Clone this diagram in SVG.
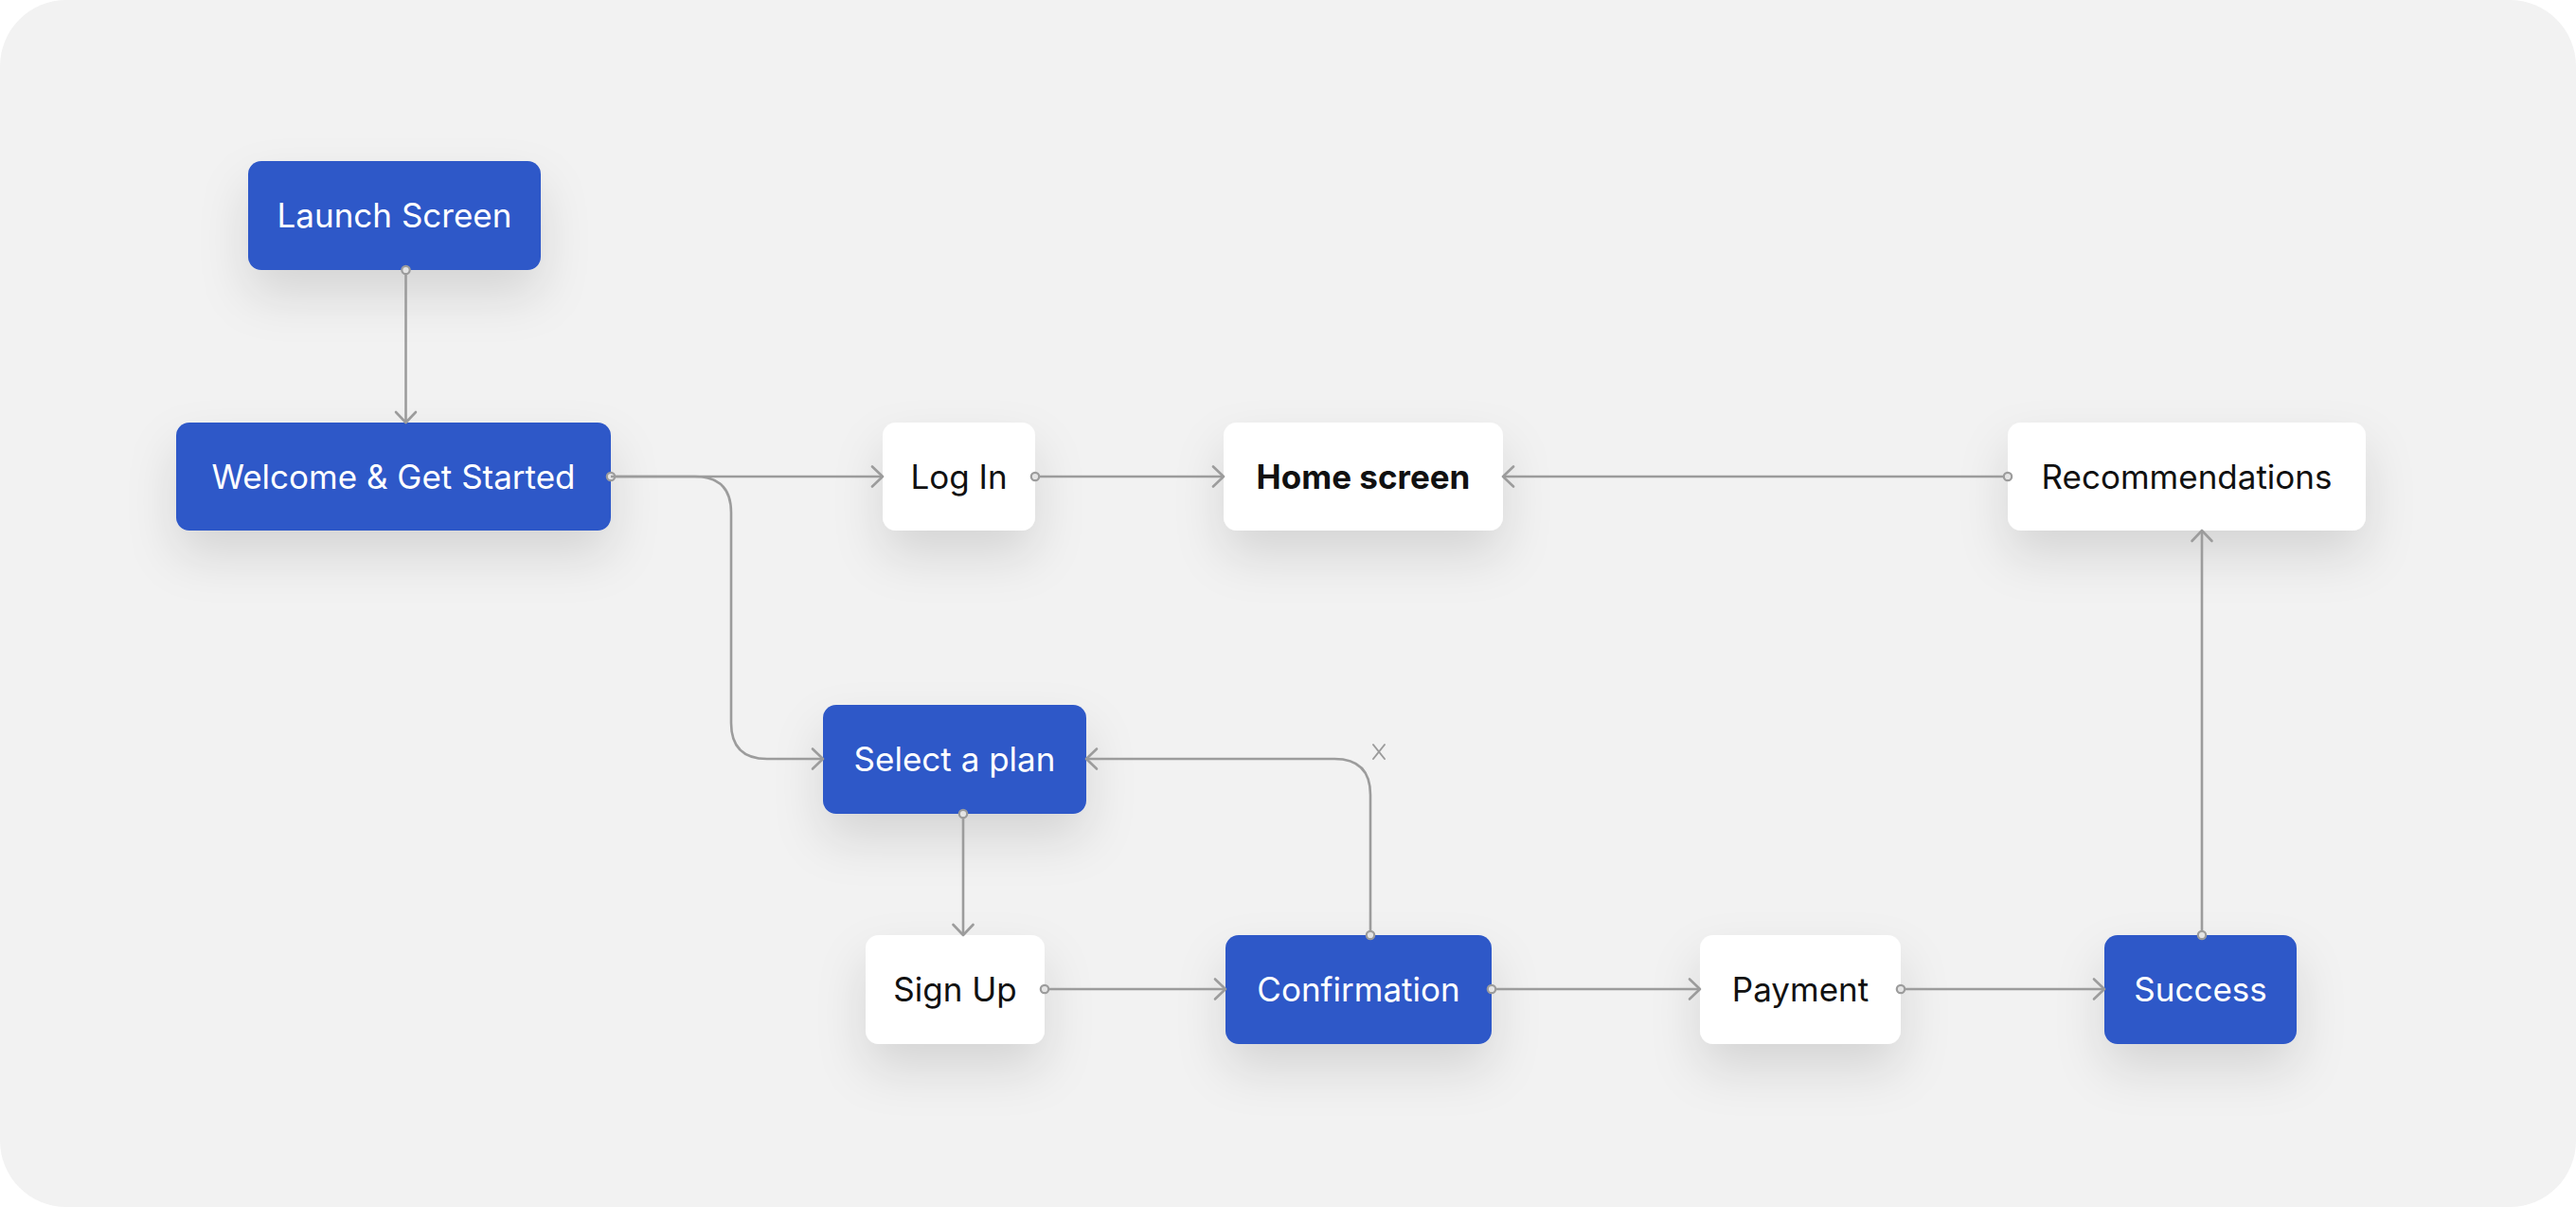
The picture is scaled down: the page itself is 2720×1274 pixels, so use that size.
<svg xmlns="http://www.w3.org/2000/svg" width="2720" height="1274" viewBox="0 0 2720 1274">
  <defs>
    <style>
      .blue { fill: #2d58c8; }
      .white { fill: #ffffff; }
      .lbl { font-family: Inter, "Noto Sans", "Liberation Sans", sans-serif; font-size: 35px; text-anchor: middle; }
      .lw { fill: #ffffff; }
      .lb { fill: #111111; }
      .bold { font-weight: 700; }
      .conn { fill: none; stroke: #9c9c9c; stroke-width: 2.6; }
    </style>
    <filter id="sh" x="-50%" y="-80%" width="200%" height="300%">
      <feDropShadow dx="0" dy="26" stdDeviation="26" flood-color="#000000" flood-opacity="0.12"/>
    </filter>
    <marker id="arr" viewBox="-14 -13 16 26" refX="0" refY="0" markerWidth="16" markerHeight="26" markerUnits="userSpaceOnUse" orient="auto">
      <path d="M-11,-10.5 L0,0 L-11,10.5" fill="none" stroke="#9c9c9c" stroke-width="2.6" stroke-linecap="round" stroke-linejoin="round"/>
    </marker>
    <marker id="dot" viewBox="-7 -7 14 14" refX="0" refY="0" markerWidth="14" markerHeight="14" markerUnits="userSpaceOnUse" orient="auto">
      <circle cx="0" cy="0" r="4.2" fill="#e4e4e4" stroke="#9c9c9c" stroke-width="2.2"/>
    </marker>
  </defs>

  <rect x="0" y="0" width="2720" height="1274" fill="#ffffff"/>
  <rect x="0" y="0" width="2720" height="1274" rx="70" ry="70" fill="#f2f2f2"/>

  <g id="node-launch">
    <rect class="blue" x="262" y="170" width="309" height="115" rx="14" filter="url(#sh)"/>
    <text class="lbl lw" x="416.5" y="240">Launch Screen</text>
  </g>
  <g id="node-welcome">
    <rect class="blue" x="186" y="446" width="459" height="114" rx="14" filter="url(#sh)"/>
    <text class="lbl lw" x="415.5" y="515.5">Welcome &amp; Get Started</text>
  </g>
  <g id="node-login">
    <rect class="white" x="932" y="446" width="161" height="114" rx="14" filter="url(#sh)"/>
    <text class="lbl lb" x="1012.5" y="515.5">Log In</text>
  </g>
  <g id="node-home">
    <rect class="white" x="1292" y="446" width="295" height="114" rx="14" filter="url(#sh)"/>
    <text class="lbl lb bold" x="1439.5" y="515.5">Home screen</text>
  </g>
  <g id="node-recommendations">
    <rect class="white" x="2120" y="446" width="378" height="114" rx="14" filter="url(#sh)"/>
    <text class="lbl lb" x="2309" y="515.5">Recommendations</text>
  </g>
  <g id="node-select-plan">
    <rect class="blue" x="869" y="744" width="278" height="115" rx="14" filter="url(#sh)"/>
    <text class="lbl lw" x="1008" y="814">Select a plan</text>
  </g>
  <g id="node-signup">
    <rect class="white" x="914" y="987" width="189" height="115" rx="14" filter="url(#sh)"/>
    <text class="lbl lb" x="1008.5" y="1057">Sign Up</text>
  </g>
  <g id="node-confirmation">
    <rect class="blue" x="1294" y="987" width="281" height="115" rx="14" filter="url(#sh)"/>
    <text class="lbl lw" x="1434.5" y="1057">Confirmation</text>
  </g>
  <g id="node-payment">
    <rect class="white" x="1795" y="987" width="212" height="115" rx="14" filter="url(#sh)"/>
    <text class="lbl lb" x="1901" y="1057">Payment</text>
  </g>
  <g id="node-success">
    <rect class="blue" x="2222" y="987" width="203" height="115" rx="14" filter="url(#sh)"/>
    <text class="lbl lw" x="2323.5" y="1057">Success</text>
  </g>

  <g id="connectors">
    <path class="conn" d="M428.5,285 V446" marker-start="url(#dot)" marker-end="url(#arr)"/>
    <path class="conn" d="M645,503 H932" marker-start="url(#dot)" marker-end="url(#arr)"/>
    <path class="conn" d="M645,503 H734 Q772,503 772,541 V763 Q772,801 810,801 H869" marker-end="url(#arr)"/>
    <path class="conn" d="M1093,503 H1292" marker-start="url(#dot)" marker-end="url(#arr)"/>
    <path class="conn" d="M2120,503 H1587" marker-start="url(#dot)" marker-end="url(#arr)"/>
    <path class="conn" d="M1017,859 V987" marker-start="url(#dot)" marker-end="url(#arr)"/>
    <path class="conn" d="M1447,987 V839 Q1447,801 1409,801 H1147" marker-start="url(#dot)" marker-end="url(#arr)"/>
    <path class="conn" d="M1103,1044 H1294" marker-start="url(#dot)" marker-end="url(#arr)"/>
    <path class="conn" d="M1575,1044 H1795" marker-start="url(#dot)" marker-end="url(#arr)"/>
    <path class="conn" d="M2007,1044 H2222" marker-start="url(#dot)" marker-end="url(#arr)"/>
    <path class="conn" d="M2325,987 V560" marker-start="url(#dot)" marker-end="url(#arr)"/>
    <g id="delete-mark" stroke="#9c9c9c" stroke-width="2" stroke-linecap="round">
      <line x1="1450" y1="786" x2="1462" y2="801"/>
      <line x1="1462" y1="786" x2="1450" y2="801"/>
    </g>
  </g>
</svg>
